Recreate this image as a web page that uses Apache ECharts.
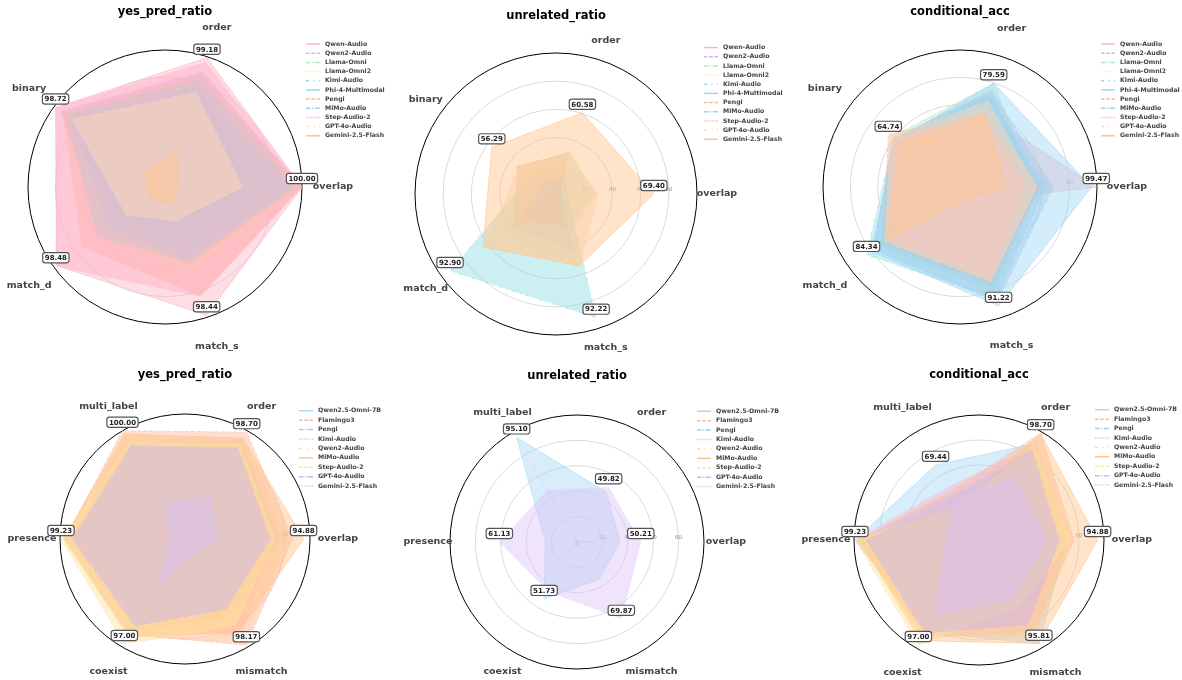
<!DOCTYPE html>
<html lang="en">
<head>
<meta charset="UTF-8">
<title>radar panels</title>
<style>
html, body { margin: 0; padding: 0; background: #fff; }
.row { position: absolute; left: 0; top: 0; width: 1182px; height: 680px; }
</style>
</head>
<body>
<div id="topRow" class="row"></div>
<div id="bottomRow" class="row"></div>
<script src="https://cdn.jsdelivr.net/npm/echarts@6/dist/echarts.min.js"></script>
<script type="text/javascript">
// ---- data ----
var topAxes = ['overlap', 'order', 'binary', 'match_d', 'match_s'];
var bottomAxes = ['overlap', 'order', 'multi_label', 'presence', 'coexist', 'mismatch'];

var topModels = ['Qwen-Audio', 'Qwen2-Audio', 'Llama-Omni', 'Llama-Omni2', 'Kimi-Audio',
    'Phi-4-Multimodal', 'Pengi', 'MiMo-Audio', 'Step-Audio-2', 'GPT-4o-Audio', 'Gemini-2.5-Flash'];
var bottomModels = ['Qwen2.5-Omni-7B', 'Flamingo3', 'Pengi', 'Kimi-Audio', 'Qwen2-Audio',
    'MiMo-Audio', 'Step-Audio-2', 'GPT-4o-Audio', 'Gemini-2.5-Flash'];

// rows follow topModels, columns follow topAxes
var topYes = [
    [100.00, 99.18, 98.72, 97.60, 98.44],
    [99.20, 88.50, 94.00, 55.00, 52.00],
    [97.50, 84.00, 90.00, 62.00, 60.00],
    [96.00, 80.00, 88.00, 58.00, 64.00],
    [88.00, 75.00, 82.00, 45.00, 48.00],
    [92.00, 78.00, 86.00, 50.00, 55.00],
    [99.50, 86.00, 92.00, 74.50, 83.00],
    [95.00, 82.00, 89.00, 60.00, 58.00],
    [99.80, 96.00, 98.50, 98.48, 84.00],
    [57.00, 73.00, 84.00, 35.00, 26.00],
    [9.50, 27.00, 19.00, 14.00, 13.00]
];
var topUnrelated = [
    [0.00, 0.50, 1.00, 1.50, 1.00],
    [0.50, 8.00, 4.00, 40.00, 42.00],
    [27.70, 31.60, 32.00, 37.00, 30.00],
    [2.00, 15.00, 8.00, 25.00, 20.00],
    [8.00, 20.00, 22.00, 92.90, 92.22],
    [3.00, 10.00, 8.00, 20.00, 18.00],
    [0.50, 30.00, 34.00, 36.00, 22.00],
    [4.00, 12.00, 12.00, 28.00, 25.00],
    [0.20, 1.00, 1.00, 1.50, 6.00],
    [30.00, 29.00, 33.00, 62.00, 54.00],
    [69.40, 60.58, 56.29, 64.00, 53.50]
];
var topCond = [
    [99.47, 57.00, 8.00, 10.00, 12.00],
    [58.00, 72.00, 60.00, 70.00, 76.00],
    [55.00, 79.59, 62.00, 72.00, 80.00],
    [50.00, 62.00, 58.00, 66.00, 72.00],
    [62.00, 70.00, 60.00, 84.34, 86.00],
    [96.00, 79.59, 58.00, 80.00, 91.22],
    [58.00, 57.00, 64.74, 69.00, 74.00],
    [68.00, 74.00, 60.00, 78.00, 88.00],
    [48.00, 56.00, 60.00, 64.00, 70.00],
    [56.00, 66.00, 63.00, 68.00, 73.00],
    [34.00, 57.00, 55.00, 66.00, 10.00]
];

// rows follow bottomModels, columns follow bottomAxes
var bottomYes = [
    [75.00, 90.00, 88.00, 92.00, 82.00, 72.00],
    [86.00, 98.70, 100.00, 96.00, 88.00, 98.17],
    [62.00, 82.00, 86.00, 84.00, 74.00, 62.00],
    [70.00, 86.00, 82.00, 88.00, 78.00, 90.00],
    [82.00, 94.00, 96.00, 95.00, 90.00, 96.00],
    [94.88, 93.00, 97.00, 97.00, 90.00, 86.00],
    [72.00, 88.00, 89.00, 99.23, 97.00, 80.00],
    [68.00, 84.00, 86.00, 90.00, 80.00, 65.00],
    [27.00, 40.00, 33.50, 12.00, 42.50, 15.00]
];
var bottomUnrelated = [
    [34.00, 45.60, 95.10, 25.00, 51.73, 34.00],
    [0.00, 0.00, 0.00, 0.00, 0.00, 0.00],
    [15.50, 0.00, 0.00, 0.00, 0.00, 0.00],
    [0.00, 0.00, 75.00, 0.00, 0.00, 0.00],
    [0.00, 0.00, 0.00, 0.00, 0.00, 0.00],
    [0.00, 0.00, 0.00, 0.00, 0.00, 0.00],
    [0.00, 0.00, 0.00, 0.00, 0.00, 0.00],
    [1.00, 2.00, 3.00, 2.00, 3.00, 4.00],
    [50.21, 49.82, 47.00, 61.13, 45.00, 69.87]
];
var bottomCond = [
    [70.00, 89.00, 69.44, 99.00, 85.00, 95.81],
    [76.00, 98.70, 45.00, 96.00, 90.00, 86.00],
    [62.00, 82.00, 42.00, 95.00, 80.00, 76.00],
    [66.00, 86.00, 49.00, 99.23, 84.00, 80.00],
    [74.00, 92.00, 36.00, 97.00, 88.00, 90.00],
    [94.88, 98.40, 32.00, 96.00, 93.00, 95.50],
    [73.00, 88.00, 30.00, 99.10, 97.00, 62.00],
    [64.00, 84.00, 38.00, 90.00, 86.00, 78.00],
    [54.00, 59.00, 39.00, 27.00, 70.00, 55.00]
];

// ---- styles ----
var FONT = 'DejaVu Sans';
var topColors = ['#FFB3C6', '#C9B6F2', '#B4E7C9', '#FFF0A0', '#8FDDE0', '#9FD6F5',
    '#FFB89E', '#A5CDEB', '#FFB0C4', '#FFD9B5', '#FFC48A'];
var bottomColors = ['#A6DAF5', '#FFB89E', '#A5CDEB', '#FFB3C6', '#FFD2AE', '#FFC48A',
    '#FFE39A', '#C9B6F2', '#DCC3F7'];
var dashCycle = ['solid', 'dashed', 'dashdot', 'dotted', 'sparse'];
var lineTypes = {solid: 'solid', dashed: [4, 2], dashdot: [5, 2, 1, 2], dotted: [1, 2], sparse: [3, 5, 1, 5]};
var legendIcons = {
    solid: 'path://M0,0H14V1.5H0Z',
    dashed: 'path://M0,0H3.5V1.5H0ZM5.25,0H8.75V1.5H5.25ZM10.5,0H14V1.5H10.5Z',
    dashdot: 'path://M0,0H4.5V1.5H0ZM6,0H7.2V1.5H6ZM8.7,0H14V1.5H8.7Z',
    dotted: 'path://M0,0H1.2V1.5H0ZM2.55,0H3.75V1.5H2.55ZM5.1,0H6.3V1.5H5.1ZM7.65,0H8.85V1.5H7.65ZM10.2,0H11.4V1.5H10.2ZM12.75,0H14V1.5H12.75Z',
    sparse: 'path://M0,0H3V1.5H0ZM7.5,0H8.7V1.5H7.5ZM13,0H14V1.5H13Z'
};

var topPanels = [
    {title: 'yes_pred_ratio', values: topYes, cx: 165, cy: 187, r: 137, gap: 31, ty: 12, lx: 306, ly: 39.5},
    {title: 'unrelated_ratio', values: topUnrelated, cx: 556, cy: 194, r: 141, gap: 20, ty: 16, lx: 704, ly: 43},
    {title: 'conditional_acc', values: topCond, cx: 960, cy: 187, r: 137, gap: 30, ty: 12.5, lx: 1101, ly: 39.5}
];
var bottomPanels = [
    {title: 'yes_pred_ratio', values: bottomYes, cx: 185, cy: 539, r: 125, gap: 28, ty: 375, lx: 299, ly: 406},
    {title: 'unrelated_ratio', values: bottomUnrelated, cx: 577, cy: 542, r: 127, gap: 22, ty: 376, lx: 697, ly: 406.5},
    {title: 'conditional_acc', values: bottomCond, cx: 979, cy: 540, r: 125, gap: 28, ty: 375, lx: 1095, ly: 405}
];

function buildOption(panels, axes, models, colors, rowGap) {
    var radar = [], series = [], legend = [], graphic = [];
    panels.forEach(function (p, k) {
        radar.push({
            center: [p.cx, p.cy],
            radius: p.r,
            startAngle: 0,
            shape: 'circle',
            splitNumber: 5,
            indicator: axes.map(function (a, j) {
                return {
                    name: a, min: 0, max: 100, nameGap: p.gap,
                    nameTextStyle: {align: 'center', verticalAlign: 'middle'},
                    axisLabel: {show: j === 0}
                };
            }),
            axisName: {color: '#444', fontSize: 9.5, fontWeight: 'bold', fontFamily: FONT},
            axisLine: {show: false},
            axisTick: {show: false},
            axisLabel: {show: false, fontSize: 5.5, color: '#888', margin: 1,
                showMinLabel: false, showMaxLabel: false, fontFamily: FONT},
            splitLine: {lineStyle: {color: ['#dadada', '#dadada', '#dadada', '#dadada', '#dadada', '#000'], width: 1}},
            splitArea: {show: false}
        });

        models.forEach(function (m, i) {
            var dash = dashCycle[i % dashCycle.length];
            series.push({
                type: 'radar',
                radarIndex: k,
                name: m,
                symbol: 'none',
                silent: true,
                lineStyle: {color: colors[i], width: 1, type: lineTypes[dash], opacity: 0.6},
                itemStyle: {color: colors[i]},
                areaStyle: {color: colors[i], opacity: 0.45},
                data: [{name: m, value: p.values[i]}]
            });
        });

        // best value on each axis, shown as a boxed label
        var best = axes.map(function (a, j) {
            return Math.max.apply(null, p.values.map(function (row) { return row[j]; }));
        });
        series.push({
            type: 'radar',
            radarIndex: k,
            name: 'best',
            symbol: 'circle',
            symbolSize: 2,
            silent: true,
            z: 5,
            itemStyle: {color: 'rgba(0,0,0,0)'},
            lineStyle: {width: 0, opacity: 0},
            label: {
                show: true,
                position: 'top',
                distance: 3,
                formatter: function (q) { return Number(q.value).toFixed(2); },
                color: '#222',
                fontSize: 7,
                fontWeight: 'bold',
                fontFamily: FONT,
                backgroundColor: '#fff',
                borderColor: '#555',
                borderWidth: 1.2,
                borderRadius: 2,
                padding: [1.5, 1.5, 0.5, 1.5]
            },
            data: [{name: 'best', value: best}]
        });

        legend.push({
            orient: 'vertical',
            left: p.lx,
            top: p.ly,
            padding: 0,
            itemWidth: 14,
            itemHeight: 1.5,
            itemGap: 0,
            itemStyle: {borderWidth: 0},
            selectedMode: false,
            textStyle: {color: '#444', fontSize: 6.2, fontWeight: 'bold', fontFamily: FONT, lineHeight: rowGap},
            data: models.map(function (m, i) {
                return {name: m, icon: legendIcons[dashCycle[i % dashCycle.length]]};
            })
        });

        graphic.push({
            type: 'text',
            x: p.cx,
            y: p.ty,
            silent: true,
            style: {text: p.title, fill: '#000', font: 'bold 11.5px "DejaVu Sans"', align: 'center', verticalAlign: 'middle'}
        });
    });
    return {animation: false, radar: radar, series: series, legend: legend, graphic: graphic};
}

var topChart = echarts.init(document.getElementById('topRow'));
topChart.setOption(buildOption(topPanels, topAxes, topModels, topColors, 9.17));
var bottomChart = echarts.init(document.getElementById('bottomRow'));
bottomChart.setOption(buildOption(bottomPanels, bottomAxes, bottomModels, bottomColors, 9.42));
</script>
</body>
</html>
